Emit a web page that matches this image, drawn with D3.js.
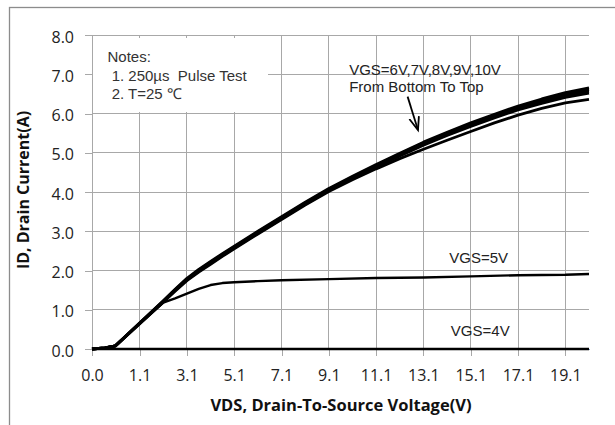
<!DOCTYPE html>
<html>
<head>
<meta charset="utf-8">
<script src="https://cdn.jsdelivr.net/npm/d3@7"></script>
<style>
  body { margin: 0; background: #fff; }
  svg { display: block; }
</style>
</head>
<body>
<div id="chart"></div>
<script>

// VDS samples (V) for the VGS = 6V..10V curves
var vds = [0, 0.3, 0.54, 1.1, 2.1, 2.6, 3.1, 3.6, 4.1, 4.6, 5.1, 6.1, 7.1, 8.1, 9.1, 10.1, 11.1, 12.1, 13.1, 14.1, 15.1, 16.1, 17.1, 18.1, 19.1, 20.1];

// drain current (A)
var id6  = [0, 0.03, 0.08, 0.64, 1.19, 1.47, 1.74, 1.96, 2.16, 2.36, 2.55, 2.93, 3.30, 3.67, 4.01, 4.31, 4.59, 4.85, 5.09, 5.32, 5.54, 5.76, 5.96, 6.13, 6.27, 6.36];
var id7  = [0, 0.03, 0.08, 0.65, 1.20, 1.49, 1.76, 1.98, 2.18, 2.38, 2.57, 2.95, 3.32, 3.69, 4.03, 4.34, 4.64, 4.92, 5.19, 5.44, 5.67, 5.89, 6.09, 6.26, 6.41, 6.52];
var id8  = [0, 0.03, 0.08, 0.65, 1.21, 1.50, 1.77, 1.99, 2.19, 2.39, 2.58, 2.96, 3.33, 3.70, 4.05, 4.36, 4.66, 4.95, 5.22, 5.47, 5.71, 5.93, 6.13, 6.30, 6.46, 6.57];
var id9  = [0, 0.03, 0.08, 0.66, 1.22, 1.51, 1.78, 2.01, 2.21, 2.41, 2.60, 2.98, 3.35, 3.72, 4.07, 4.38, 4.68, 4.97, 5.25, 5.50, 5.74, 5.96, 6.16, 6.34, 6.50, 6.61];
var id10 = [0, 0.03, 0.08, 0.66, 1.23, 1.52, 1.80, 2.03, 2.23, 2.43, 2.62, 3.00, 3.37, 3.74, 4.09, 4.40, 4.70, 4.99, 5.27, 5.52, 5.76, 5.98, 6.19, 6.37, 6.53, 6.65];

// VGS = 5V curve
var vds5 = [0, 0.3, 0.54, 1.1, 2.1, 2.6, 3.1, 3.6, 4.1, 4.6, 5.1, 6.1, 7.1, 9.1, 11.1, 13.1, 15.1, 17.1, 19.1, 20.1];
var id5  = [0, 0.03, 0.08, 0.65, 1.18, 1.29, 1.41, 1.53, 1.63, 1.68, 1.70, 1.73, 1.75, 1.78, 1.81, 1.82, 1.85, 1.88, 1.89, 1.91];

// VGS = 4V curve
var vds4 = [0, 20.1];
var id4  = [0, 0];

// tick labels
var xTicks = [0, 1.1, 3.1, 5.1, 7.1, 9.1, 11.1, 13.1, 15.1, 17.1, 19.1];
var yTicks = [0, 1, 2, 3, 4, 5, 6, 7, 8];

var notes = ["Notes:", " 1. 250\u00b5s  Pulse Test", " 2. T=25 \u2103"];


var width = 615, height = 425;
var margin = { top: 35, right: 26, bottom: 76, left: 92 };
var w = width - margin.left - margin.right;
var h = height - margin.top - margin.bottom;

var svg = d3.select("#chart").append("svg")
    .attr("width", width)
    .attr("height", height);

svg.append("rect")
    .attr("width", width).attr("height", height)
    .attr("fill", "#fff");

// chart area border
svg.append("rect")
    .attr("x", 9.5).attr("y", 7.5)
    .attr("width", 640).attr("height", 450)
    .attr("fill", "none")
    .attr("stroke", "#8c8c8c")
    .attr("stroke-width", 1.3);

var g = svg.append("g")
    .attr("transform", "translate(" + margin.left + "," + margin.top + ")");

// excel category axis: the first label step is as wide as the 2V steps
var x = d3.scaleLinear()
    .domain([0, 1.1, 20.1])
    .range([0, 47.6, w]);

var y = d3.scaleLinear()
    .domain([0, 8])
    .range([h, 0]);

// gridlines
g.append("g").selectAll("line")
    .data(yTicks.slice(1))
    .enter().append("line")
    .attr("x1", 0).attr("x2", w)
    .attr("y1", function(d) { return y(d); })
    .attr("y2", function(d) { return y(d); })
    .attr("stroke", "#a8a8a8")
    .attr("stroke-width", 1)
    .attr("shape-rendering", "crispEdges");

g.append("g").selectAll("line")
    .data(xTicks.slice(1))
    .enter().append("line")
    .attr("x1", function(d) { return x(d); })
    .attr("x2", function(d) { return x(d); })
    .attr("y1", 0).attr("y2", h)
    .attr("stroke", "#a8a8a8")
    .attr("stroke-width", 1)
    .attr("shape-rendering", "crispEdges");

// axes
var yAxis = g.append("g")
    .call(d3.axisLeft(y).tickValues(yTicks).tickFormat(d3.format(".1f"))
        .tickSize(7).tickSizeOuter(0).tickPadding(11));

var xAxis = g.append("g")
    .attr("transform", "translate(0," + h + ")")
    .call(d3.axisBottom(x).tickValues(xTicks).tickFormat(d3.format(".1f"))
        .tickSize(7).tickSizeOuter(0).tickPadding(14));

[yAxis, xAxis].forEach(function(a) {
    a.selectAll("line").attr("stroke", "#a8a8a8").attr("shape-rendering", "crispEdges");
    a.select(".domain").attr("stroke", "#a8a8a8").attr("shape-rendering", "crispEdges");
    a.selectAll("text")
        .attr("fill", "#222")
        .style("font-family", "'Open Sans', sans-serif")
        .style("font-size", "16px");
});
yAxis.selectAll("text").attr("dy", "0.45em");
xAxis.select(".domain").attr("stroke", "#7f9fd0");

// notes box, opaque over the grid
var notesBox = g.append("g");
notesBox.append("rect")
    .attr("x", 1).attr("y", 3)
    .attr("width", 175).attr("height", 74)
    .attr("fill", "#fff");
notesBox.selectAll("text")
    .data(notes)
    .enter().append("text")
    .attr("x", 15.5)
    .attr("y", function(d, i) { return 27 + i * 18.7; })
    .attr("fill", "#333")
    .style("font-family", "'Liberation Sans', Arial, sans-serif")
    .style("font-size", "15px")
    .style("white-space", "pre")
    .attr("xml:space", "preserve")
    .text(function(d) { return d; });

// curves
var series = [
    { name: "4V",  xs: vds4, ys: id4,  sw: 2.3 },
    { name: "5V",  xs: vds5, ys: id5,  sw: 2.4 },
    { name: "6V",  xs: vds,  ys: id6,  sw: 2.8 },
    { name: "7V",  xs: vds,  ys: id7,  sw: 2.8 },
    { name: "8V",  xs: vds,  ys: id8,  sw: 2.8 },
    { name: "9V",  xs: vds,  ys: id9,  sw: 2.8 },
    { name: "10V", xs: vds,  ys: id10, sw: 2.8 }
];

var line = d3.line()
    .x(function(d) { return x(d[0]); })
    .y(function(d) { return y(d[1]); });

g.append("g").selectAll("path")
    .data(series)
    .enter().append("path")
    .attr("d", function(s) { return line(d3.zip(s.xs, s.ys)); })
    .attr("fill", "none")
    .attr("stroke", "#000")
    .attr("stroke-width", function(s) { return s.sw; })
    .attr("stroke-linejoin", "round");

// annotations
var labelFont = "'Liberation Sans', Arial, sans-serif";
function label(txt, vx, vy) {
    g.append("text")
        .attr("x", x(vx)).attr("y", y(vy))
        .attr("fill", "#222")
        .style("font-family", labelFont)
        .style("font-size", "15px")
        .text(txt);
}
label("VGS=6V,7V,8V,9V,10V", 9.96, 6.98);
label("From Bottom To Top", 9.96, 6.56);
label("VGS=5V", 14.19, 2.19);
label("VGS=4V", 14.26, 0.32);

svg.append("defs").append("marker")
    .attr("id", "head")
    .attr("markerUnits", "userSpaceOnUse")
    .attr("markerWidth", 16).attr("markerHeight", 12)
    .attr("refX", 13).attr("refY", 6)
    .attr("orient", "auto")
    .append("path")
    .attr("d", "M0,1 L13,6 L0,11")
    .attr("fill", "none")
    .attr("stroke", "#000")
    .attr("stroke-width", 1.8);

g.append("line")
    .attr("x1", x(12.43)).attr("y1", y(6.43))
    .attr("x2", x(12.87)).attr("y2", y(5.58))
    .attr("stroke", "#000")
    .attr("stroke-width", 1.8)
    .attr("marker-end", "url(#head)");

// axis titles
svg.append("text")
    .attr("x", 341).attr("y", 411)
    .attr("text-anchor", "middle")
    .attr("fill", "#111")
    .style("font-family", "'Open Sans', sans-serif")
    .style("font-size", "16.5px")
    .style("font-weight", "bold")
    .text("VDS,  Drain-To-Source Voltage(V)");

svg.append("text")
    .attr("transform", "translate(29,190) rotate(-90)")
    .attr("text-anchor", "middle")
    .attr("fill", "#111")
    .style("font-family", "'Open Sans', sans-serif")
    .style("font-size", "16px")
    .style("font-weight", "bold")
    .text("ID,  Drain Current(A)");

</script>
</body>
</html>
